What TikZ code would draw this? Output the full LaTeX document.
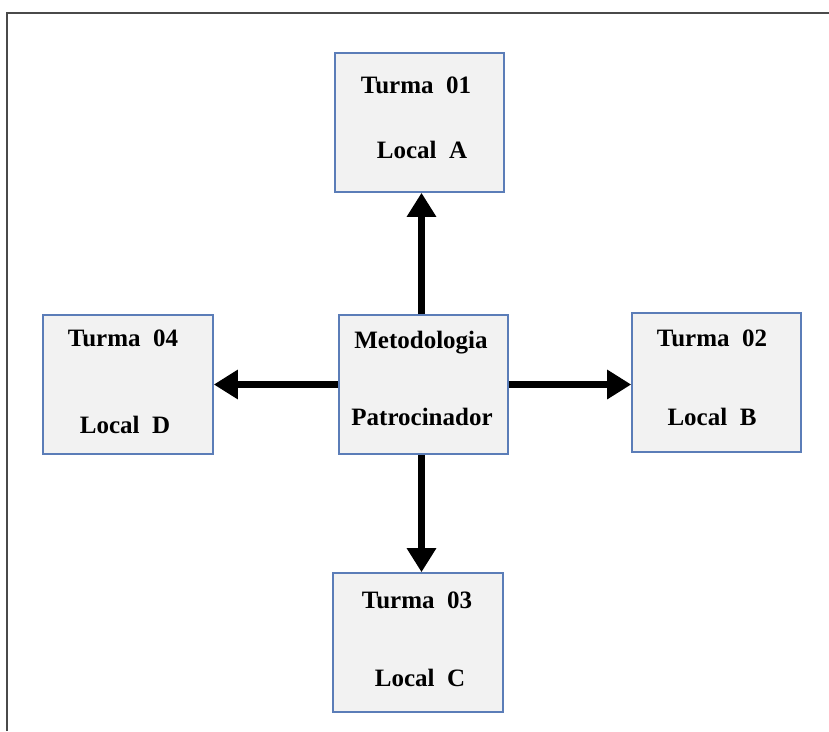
\documentclass[tikz,border=0pt]{standalone}
\usepackage{fontspec}
\setmainfont{Liberation Serif}
\usetikzlibrary{arrows.meta}
\definecolor{boxfill}{HTML}{F2F2F2}
\definecolor{boxline}{HTML}{5B7DB8}
\definecolor{frameline}{HTML}{4A4A4A}
\tikzset{
  unit/.style={draw=boxline, line width=1.6pt, fill=boxfill, inner sep=0pt},
  lbl/.style={font=\fontsize{25}{28}\selectfont\bfseries, inner sep=0pt, anchor=center},
  arr/.style={line width=7pt, -{Triangle[length=24pt,width=28pt]}},
  frame/.style={draw=frameline, line width=2pt}
}
\begin{document}
\begin{tikzpicture}[x=1pt,y=-1pt]
\useasboundingbox (0,0) rectangle (829,731);
% outer frame (open on the right and at the bottom)
\coordinate (fbl) at (7,731);
\coordinate (ftl) at (7,13);
\coordinate (ftr) at (829,13);
\draw[frame] (fbl) -- (ftl) -- (ftr);

% boxes
\node[unit, minimum width=169pt, minimum height=139pt] (top)   at (419.5,122.5) {};
\node[unit, minimum width=169pt, minimum height=139pt] (mid)   at (423.5,384.5) {};
\node[unit, minimum width=170pt, minimum height=139pt] (left)  at (128,384.5) {};
\node[unit, minimum width=169pt, minimum height=139pt] (right) at (716.5,382.5) {};
\node[unit, minimum width=170pt, minimum height=139pt] (bot)   at (418,642.5) {};

% labels
\node[lbl] (t1) at (416,85) {Turma\ \ 01};
\node[lbl] (l1) at (422,150) {Local\ \ A};
\node[lbl] (m1) at (421,343) {Metodologia};
\node[lbl] (m2) at (422,417) {Patrocinador};
\node[lbl] (t4) at (123,338) {Turma\ \ 04};
\node[lbl] (l4) at (125,425) {Local\ \ D};
\node[lbl] (t2) at (712,338) {Turma\ \ 02};
\node[lbl] (l2) at (712,417) {Local\ \ B};
\node[lbl] (t3) at (417,600) {Turma\ \ 03};
\node[lbl] (l3) at (420,678) {Local\ \ C};

% connectors
\draw[arr] ([xshift=-2pt]mid.north) -- ([xshift=-2pt]mid.north |- top.south);
\draw[arr] ([xshift=-2pt]mid.south) -- ([xshift=-2pt]mid.south |- bot.north);
\draw[arr] (mid.west) -- (mid.west -| left.east);
\draw[arr] (mid.east) -- (mid.east -| right.west);
\end{tikzpicture}
\end{document}
